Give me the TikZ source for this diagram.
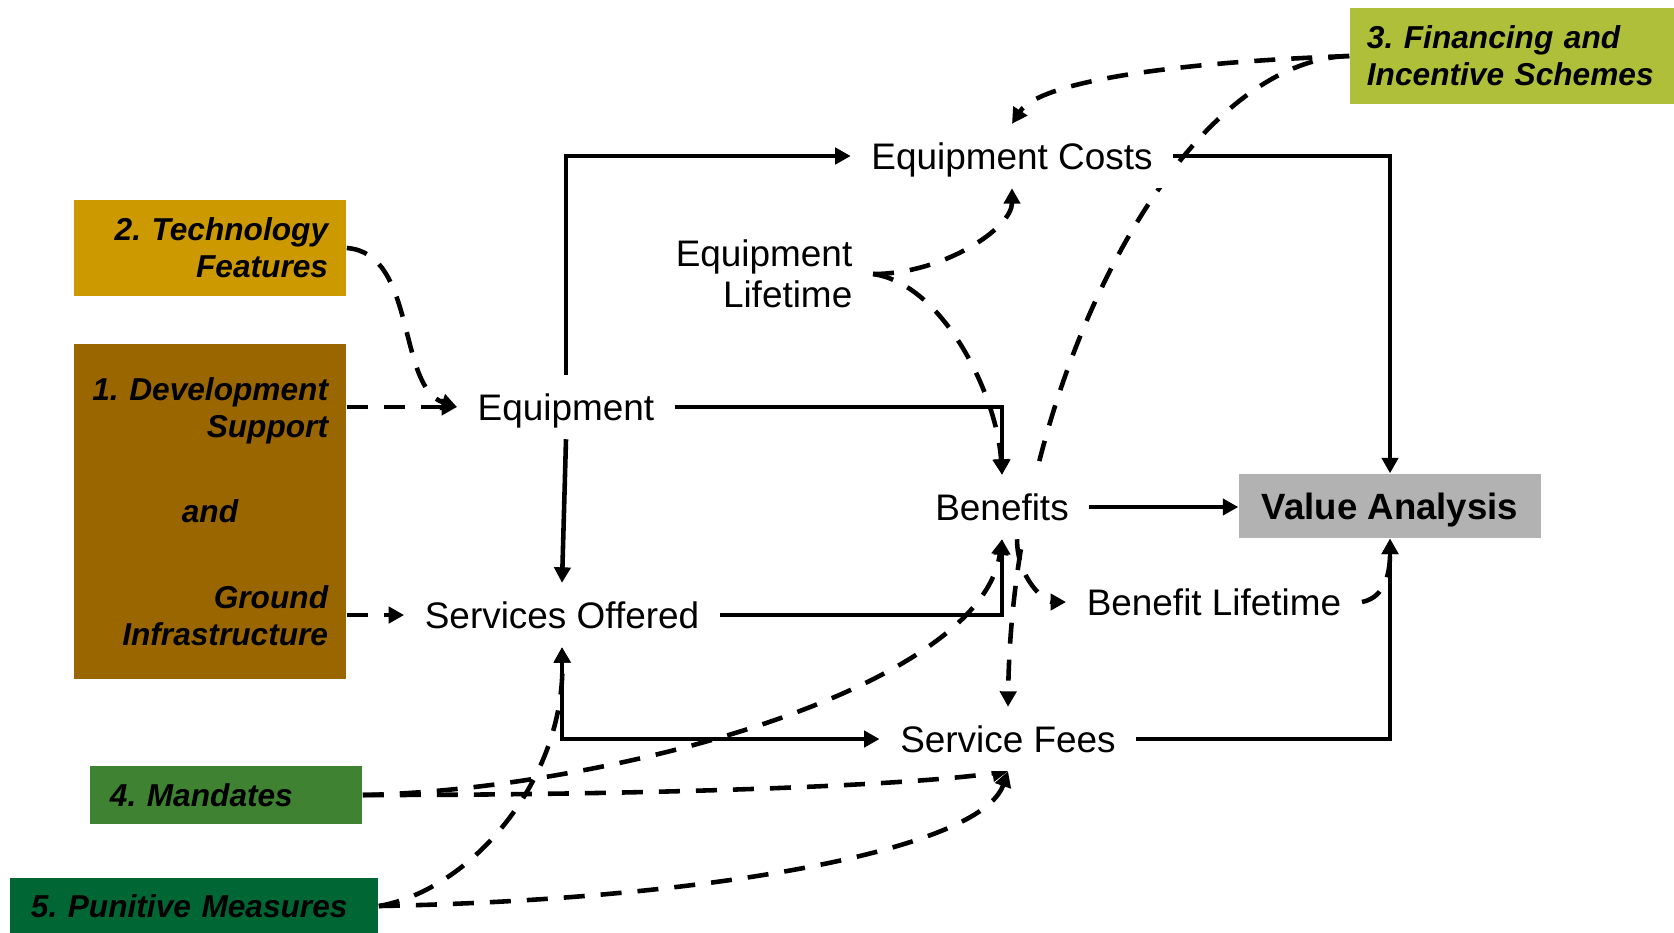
\documentclass[tikz,border=0pt]{standalone}
\usepackage{fontspec}
\setmainfont{Liberation Sans}
\usetikzlibrary{arrows.meta}
\pgfdeclarelayer{background}
\pgfsetlayers{background,main}
\frenchspacing
\hyphenpenalty=10000
\exhyphenpenalty=10000

\definecolor{techcol}{RGB}{204,153,0}
\definecolor{devcol}{RGB}{153,102,0}
\definecolor{fincol}{RGB}{176,191,58}
\definecolor{mancol}{RGB}{63,131,50}
\definecolor{puncol}{RGB}{0,102,51}
\definecolor{vacol}{RGB}{178,178,178}

\begin{document}
\begin{tikzpicture}[x=0.01cm,y=-0.01cm,
  tip/.tip={Triangle[length=4.4pt,width=4.6pt]},
  link/.style={line width=1.3pt,-tip},
  solidlink/.style={link},
  dashlink/.style={link,dash pattern=on 0.21cm off 0.16cm},
  term/.style={fill=white,inner xsep=0.2cm,inner ysep=0.1cm,
    text height=0.35cm,text depth=0.08cm,
    font=\fontsize{10.5}{12}\selectfont},
  termtwo/.style={fill=white,inner xsep=0.2cm,inner ysep=0pt,align=right,
    font=\fontsize{10.5}{11.66}\selectfont},
  lever/.style={inner sep=0pt,
    font=\bfseries\itshape\fontsize{9}{10.5}\selectfont}]

\useasboundingbox (0,0) rectangle (1674,932);

% policy levers
\node[lever,fill=techcol,minimum width=2.72cm,minimum height=0.96cm,
  text width=2.36cm,inner xsep=0.18cm,align=right] (tech) at (210,248)
  {2. Technology\\Features};
\node[lever,fill=devcol,minimum width=2.72cm,minimum height=3.35cm,
  text width=2.36cm,inner xsep=0.18cm,align=right] (dev) at (210,511.5)
  {1. Development\\Support\\[0.48cm]\makebox[2.36cm]{and}\\[0.49cm]Ground\\Infrastructure};
\node[lever,fill=fincol,minimum width=3.24cm,minimum height=0.96cm,
  text width=2.9cm,inner xsep=0.17cm,align=left] (fin) at (1512,56)
  {3. Financing and\\Incentive Schemes};
\node[lever,fill=mancol,minimum width=2.72cm,minimum height=0.58cm,
  text width=2.32cm,inner xsep=0.2cm,align=left] (man) at (226,795)
  {4. Mandates};
\node[lever,fill=puncol,minimum width=3.68cm,minimum height=0.56cm,
  text width=3.26cm,inner xsep=0.21cm,align=left] (pun) at (194,906)
  {5. Punitive Measures};

% result
\node[fill=vacol,minimum width=3.02cm,minimum height=0.64cm,inner sep=0pt,
  text depth=0pt,font=\bfseries\fontsize{10.4}{12}\selectfont] (va) at (1390,506)
  {Value Analysis};

% model quantities
\node[term] (eq)  at (566,407)  {Equipment};
\node[term] (eqc) at (1012,156) {Equipment Costs};
\node[termtwo,anchor=east] (eql) at (873,274) {Equipment\\Lifetime};
\node[term] (ben) at (1002,507) {Benefits};
\node[term] (so)  at (562,615)  {Services Offered};
\node[term] (bl)  at (1214,602) {Benefit Lifetime};
\node[term] (sf)  at (1008,739) {Service Fees};

\begin{pgfonlayer}{background}
% direct relations
\draw[solidlink] (eq.north) |- (eqc.west);
\draw[solidlink] (eq.south) -- (so.north);
\draw[solidlink] (eq.east) -| (ben.north);
\draw[solidlink] (so.east) -| (ben.south);
\draw[solidlink,tip-tip] (so.south) |- (sf.west);
\draw[solidlink] (ben.east) -- (va.west |- ben.east);
\draw[solidlink] (eqc.east) -| (va.north);
\draw[solidlink] (sf.east) -| (va.south);

% lever influences
\draw[dashlink] (tech.east) .. controls +(70,5) and +(-60,-20) .. (eq.west);
\draw[dashlink] (dev.east |- eq.west) -- (eq.west);
\draw[dashlink] (dev.east |- so.west) -- (so.west);
\draw[dashlink] (fin.west) .. controls +(-170,6) and +(28,-43) .. (eqc.north);
\draw[dashlink] (fin.west) .. controls +(-170,4) and +(4,-327) .. (sf.north);
\draw[dashlink] (man.east) .. controls +(238,-5) and +(-22,152) .. (ben.south);
\draw[dashlink] (man.east) .. controls +(288,0) and +(-108,15) .. (sf.south);
\draw[dashlink] (pun.east) .. controls +(92,-16) and +(3,133) .. (so.south);
\draw[dashlink] (pun.east) .. controls +(322,-6) and +(-28,80) .. (sf.south);

% lifetime effects
\draw[dashlink] (eql.east) .. controls +(70,0) and +(0,40) .. (eqc.south);
\draw[dashlink] (eql.east) .. controls +(70,10) and +(-5,-80) .. (ben.north);
\draw[dashlink] ([xshift=0.15cm]ben.south) .. controls +(0,40) and +(-20,0) .. (bl.west);
\draw[dashlink] (bl.east) .. controls +(25,-5) and +(0,30) .. (va.south);
\end{pgfonlayer}
\end{tikzpicture}
\end{document}
